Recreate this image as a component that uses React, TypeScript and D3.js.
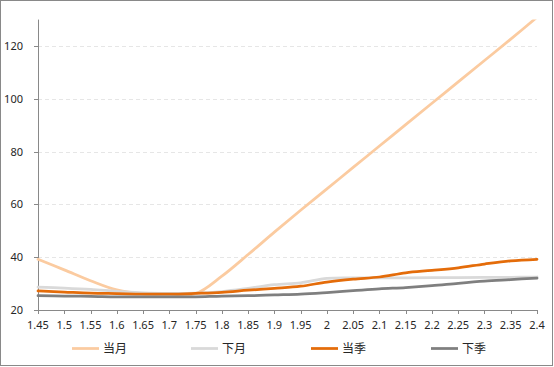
import React from "react";
import * as d3 from "d3";

const strikes = [1.45, 1.5, 1.55, 1.6, 1.65, 1.7, 1.75, 1.8, 1.85, 1.9, 1.95, 2, 2.05, 2.1, 2.15, 2.2, 2.25, 2.3, 2.35, 2.4];
const dangYue = [39.2, 35.2, 31.1, 27.6, 26.1, 26, 26.2, 32.8, 41, 49.5, 57.8, 65.9, 74, 82.1, 90.2, 98.3, 106.4, 114.5, 122.6, 130.9];
const xiaYue = [28.7, 28.3, 27.8, 27.1, 26.5, 26.3, 26.4, 27, 28.2, 29.6, 30.3, 32, 32.2, 32.2, 32.2, 32.3, 32.3, 32.4, 32.4, 32.5];
const dangJi = [27.2, 26.8, 26.4, 26.2, 26, 26, 26.3, 26.7, 27.5, 28.2, 29, 30.6, 31.7, 32.5, 34.1, 35, 36, 37.4, 38.6, 39.2];
const xiaJi = [25.4, 25.3, 25.2, 25, 25, 25, 25, 25.3, 25.4, 25.7, 26, 26.6, 27.3, 28, 28.5, 29.2, 30.1, 30.9, 31.5, 32.1];
const yTicks = [20, 40, 60, 80, 100, 120];
const seriesNames = ["当月", "下月", "当季", "下季"];
const seriesColors = ["#fbcba0", "#d9d9d9", "#e46c0a", "#7f7f7f"];
const seriesValues = [dangYue, xiaYue, dangJi, xiaJi];

const W = 554;
const H = 367;
const left = 38;
const right = 537;
const top = 19.6;
const bottom = 310;

export default function App() {
  const x = d3.scalePoint<number>().domain(strikes).range([left, right]);
  const y = d3.scaleLinear().domain([20, 130]).range([bottom, top]);
  const line = d3
    .line<number>()
    .x((_, i) => x(strikes[i]) as number)
    .y((d) => y(d))
    .curve(d3.curveCatmullRom.alpha(0.5));
  const font = "'Noto Sans', 'Noto Sans CJK SC', sans-serif";
  const legendX = [72, 191, 311, 431];

  return (
    <svg
      width={W}
      height={H}
      style={{ position: "absolute", left: 0, top: 0, display: "block", background: "#fff" }}
      fontFamily={font}
    >
      <defs>
        <clipPath id="plotclip">
          <rect x={left - 2} y={top} width={right - left + 4} height={bottom - top + 2} />
        </clipPath>
      </defs>
      <rect x={0.5} y={0.5} width={552} height={365} fill="#fff" stroke="#898989" strokeWidth={1} />
      {yTicks
        .filter((t) => t > 20)
        .map((t) => (
          <line
            key={"g" + t}
            x1={left}
            x2={right}
            y1={Math.round(y(t)) + 0.5}
            y2={Math.round(y(t)) + 0.5}
            stroke="#e6e6e6"
            strokeDasharray="4,3"
          />
        ))}
      <line x1={left + 0.5} x2={left + 0.5} y1={top} y2={bottom} stroke="#898989" />
      <line x1={left} x2={right + 0.5} y1={bottom + 0.5} y2={bottom + 0.5} stroke="#898989" />
      {yTicks.map((t) => (
        <g key={"y" + t}>
          <line x1={left - 4} x2={left} y1={Math.round(y(t)) + 0.5} y2={Math.round(y(t)) + 0.5} stroke="#898989" />
          <text x={23} y={y(t)} dy="0.36em" textAnchor="end" fontSize={11} fill="#262626">
            {t}
          </text>
        </g>
      ))}
      {strikes.map((s) => (
        <g key={"x" + s}>
          <line
            x1={Math.round(x(s) as number) + 0.5}
            x2={Math.round(x(s) as number) + 0.5}
            y1={bottom}
            y2={bottom + 4}
            stroke="#898989"
          />
          <text x={x(s) as number} y={328.5} textAnchor="middle" fontSize={11} fill="#262626">
            {String(s)}
          </text>
        </g>
      ))}
      <g clipPath="url(#plotclip)">
        {seriesValues.map((vals, i) => (
          <path
            key={seriesNames[i]}
            d={line(vals) as string}
            fill="none"
            stroke={seriesColors[i]}
            strokeWidth={2.75}
            strokeLinejoin="round"
            strokeLinecap="round"
          />
        ))}
      </g>
      {seriesNames.map((n, i) => (
        <g key={"l" + n}>
          <line
            x1={legendX[i]}
            x2={legendX[i] + 27}
            y1={348.5}
            y2={348.5}
            stroke={seriesColors[i]}
            strokeWidth={2.75}
          />
          <text x={legendX[i] + 31} y={348.5} dy="0.38em" fontSize={12} fill="#262626">
            {n}
          </text>
        </g>
      ))}
    </svg>
  );
}
